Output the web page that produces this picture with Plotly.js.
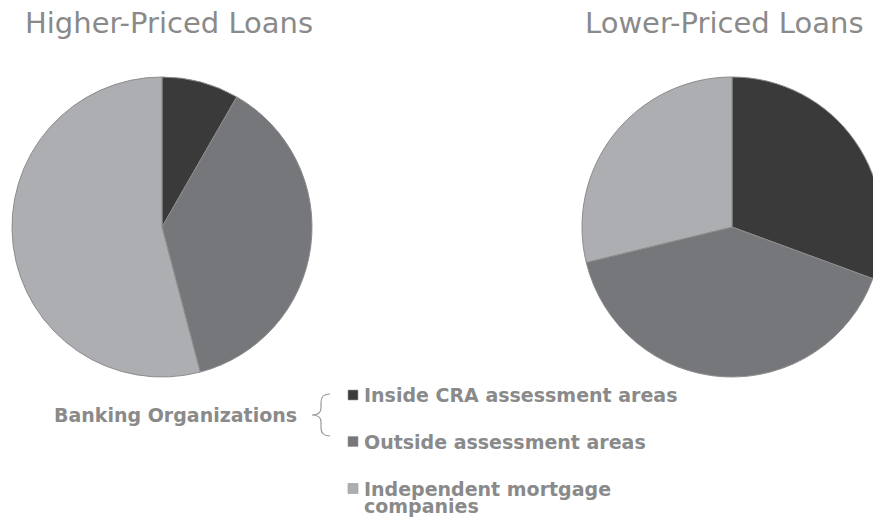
<!DOCTYPE html>
<html>
<head>
<meta charset="utf-8">
<script src="https://cdn.plot.ly/plotly-3.0.1.min.js"></script>
<style>
html, body { margin:0; padding:0; overflow:hidden; background:#fff; }
#chart { width:882px; height:517px; }
</style>
</head>
<body>
<div id="chart"></div>
<script>
// ---- data ----
const categories = ["Inside CRA assessment areas", "Outside assessment areas", "Independent mortgage<br>companies"];
const higherPriced = [8.3, 37.6, 54.1];
const lowerPriced = [30.6, 40.6, 28.8];
const chartTitles = ["Higher-Priced Loans", "Lower-Priced Loans"];
const groupLabel = "Banking Organizations";
const colors = ["#3a3a3a", "#76777b", "#adaeb2"];

// ---- layout helpers (pixel -> paper) ----
const W = 882, H = 517;
const px = v => v / W;
const py = v => 1 - v / H;

const pieCommon = {
  type: 'pie',
  labels: categories,
  sort: false,
  direction: 'clockwise',
  rotation: 0,
  textinfo: 'none',
  hoverinfo: 'label+percent',
  marker: { colors: colors, line: { color: '#8c8c8c', width: 1 } },
  showlegend: false
};

const traces = [
  Object.assign({}, pieCommon, { values: higherPriced, name: chartTitles[0],
    domain: { x: [px(12), px(312)], y: [py(377), py(77)] } }),
  Object.assign({}, pieCommon, { values: lowerPriced, name: chartTitles[1],
    domain: { x: [px(582), px(882)], y: [py(377), py(77)] } })
];

const textColor = '#8a8a8a';
const annotations = [];
const titleX = [25, 585];
chartTitles.forEach((t, i) => {
  annotations.push({ text: t, xref: 'paper', yref: 'paper', x: px(titleX[i] - 2), y: py(23),
    xanchor: 'left', yanchor: 'middle', showarrow: false,
    font: { family: 'DejaVu Sans, Verdana, sans-serif', size: 29, color: textColor } });
});
annotations.push({ text: '<b>' + groupLabel + '</b>', xref: 'paper', yref: 'paper', x: px(52), y: py(414.5),
  xanchor: 'left', yanchor: 'middle', showarrow: false,
  font: { family: 'DejaVu Sans, Verdana, sans-serif', size: 19, color: textColor } });

const rowY = [395, 441.5, 488.5];
const lineStep = 17;
const shapes = [];
categories.forEach((c, i) => {
  const lines = c.split('<br>');
  lines.forEach((ln, j) => {
    annotations.push({ text: '<b>' + ln + '</b>', xref: 'paper', yref: 'paper', x: px(362), y: py(rowY[i] + j * lineStep),
      xanchor: 'left', yanchor: 'middle', showarrow: false,
      font: { family: 'DejaVu Sans, Verdana, sans-serif', size: 19, color: textColor } });
  });
  shapes.push({ type: 'rect', xref: 'paper', yref: 'paper',
    x0: px(348), x1: px(358), y0: py(rowY[i] - 5), y1: py(rowY[i] + 5),
    fillcolor: colors[i], line: { color: '#9a9a9a', width: 0.6 } });
});

// curly brace
const P = (x, y) => px(x) + ',' + py(y);
const brace = 'M' + P(330, 394) + ' Q' + P(321, 394) + ' ' + P(321, 402) +
  ' L' + P(321, 408) + ' Q' + P(321, 415) + ' ' + P(312, 415) +
  ' Q' + P(321, 415) + ' ' + P(321, 422) + ' L' + P(321, 428) +
  ' Q' + P(321, 436) + ' ' + P(330, 436);
shapes.push({ type: 'path', xref: 'paper', yref: 'paper', path: brace,
  line: { color: '#9a9a9a', width: 1.2 } });

const layout = {
  width: W, height: H,
  margin: { l: 0, r: 0, t: 0, b: 0 },
  paper_bgcolor: '#ffffff',
  plot_bgcolor: '#ffffff',
  showlegend: false,
  annotations: annotations,
  shapes: shapes
};

Plotly.newPlot('chart', traces, layout, { displayModeBar: false, staticPlot: true });
</script>
</body>
</html>
